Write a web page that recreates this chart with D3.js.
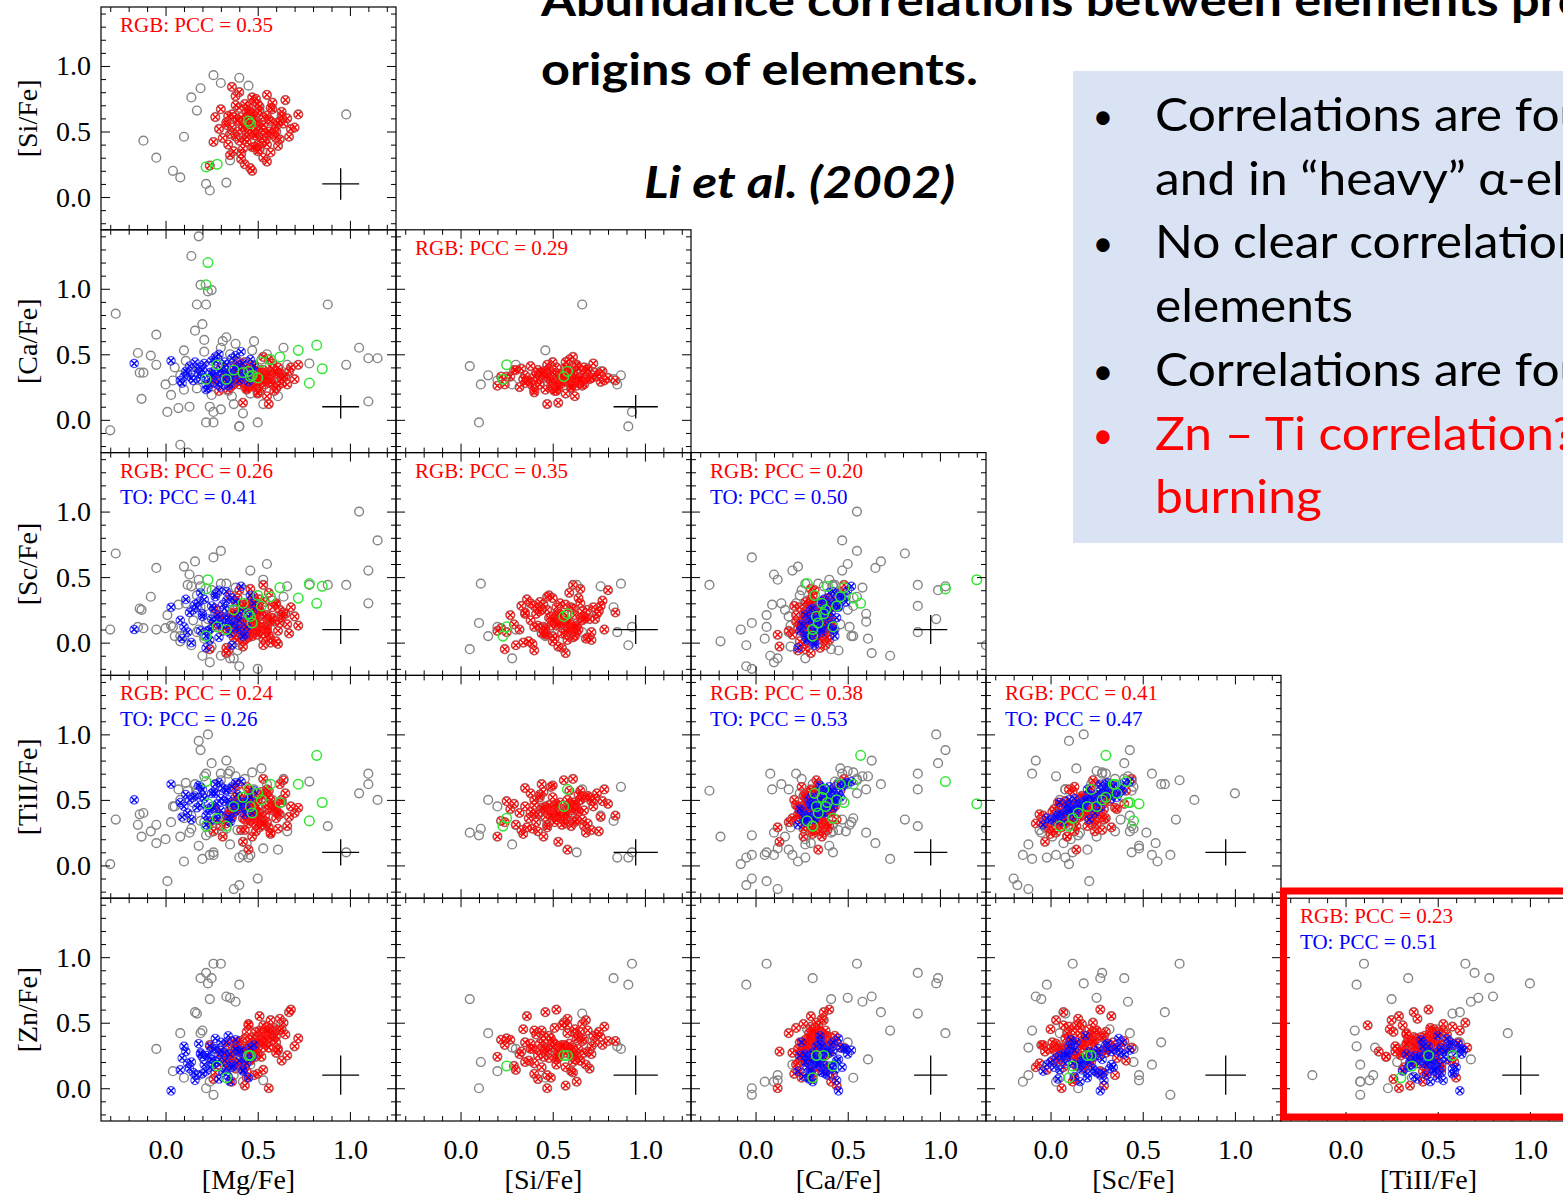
<!DOCTYPE html>
<html lang="en">
<head>
<meta charset="UTF-8">
<title>Abundance correlations</title>
<style>
  html, body { margin: 0; padding: 0; background: #fff; overflow: hidden; }
  svg { display: block; }
</style>
</head>
<body>
<svg width="1563" height="1197"></svg>
<script src="https://cdn.jsdelivr.net/npm/d3@7"></script>
<script>
// every star row is [Mg, Si, Ca, Sc, TiII, Zn]  (null = not measured)
var elements = ['[Mg/Fe]', '[Si/Fe]', '[Ca/Fe]', '[Sc/Fe]', '[TiII/Fe]', '[Zn/Fe]'];
var tickValues = [0, 0.5, 1.0];
var tickLabels = ['0.0', '0.5', '1.0'];
var errBars = [0.10, 0.12, 0.09, 0.11, 0.10, 0.15];

// PCC labels, one list per row of the corner plot
var pccRGB = [['0.35'], [null, '0.29'], ['0.26', '0.35', '0.20'], ['0.24', null, '0.38', '0.41'], [null, null, null, null, '0.23']];
var pccTO = [[null], [null, null], ['0.41', null, '0.50'], ['0.26', null, '0.53', '0.47'], [null, null, null, null, '0.51']];

// RGB stars (red)
var rgbStars = [
  [0.45,0.62,0.28,0.05,0.46,0.22],[0.52,0.41,0.36,0.22,0.33,0.41],[0.38,0.70,0.31,0.18,0.52,0.15],
  [0.60,0.50,0.24,0.01,0.41,0.35],[0.41,0.33,0.39,0.28,0.27,0.28],[0.55,0.78,0.30,0.10,0.58,0.47],
  [0.33,0.55,0.35,-0.04,0.38,0.33],[0.48,0.47,0.42,0.35,0.44,0.10],[0.66,0.60,0.27,0.14,0.30,0.25],
  [0.43,0.25,0.33,0.08,0.49,0.38],[0.29,0.52,0.22,0.21,0.35,0.18],[0.57,0.68,0.37,0.03,0.25,0.52],
  [0.47,0.38,0.29,0.30,0.55,0.30],[0.36,0.63,0.41,0.12,0.42,0.05],[0.62,0.44,0.34,0.25,0.62,0.44],
  [0.50,0.57,0.20,0.06,0.36,0.27],[0.40,0.80,0.32,0.40,0.47,0.36],[0.53,0.30,0.38,-0.02,0.31,0.14],
  [0.45,0.66,0.26,0.17,0.53,0.49],[0.70,0.53,0.31,0.20,0.40,0.32],[0.31,0.45,0.36,0.09,0.22,0.24],
  [0.58,0.72,0.43,0.27,0.45,0.40],[0.44,0.49,0.25,0.13,0.60,0.08],[0.51,0.36,0.30,0.33,0.29,0.55],
  [0.39,0.58,0.40,0.02,0.43,0.29],[0.63,0.65,0.28,0.19,0.50,0.21],[0.46,0.22,0.33,0.11,0.34,0.37],
  [0.56,0.59,0.46,0.38,0.57,0.31],[0.34,0.40,0.23,-0.06,0.39,0.19],[0.49,0.75,0.35,0.24,0.26,0.43],
  [0.42,0.54,0.29,0.15,0.48,0.26],[0.67,0.46,0.37,0.07,0.37,0.58],[0.27,0.61,0.32,0.26,0.44,0.12],
  [0.54,0.43,0.27,0.31,0.54,0.34],[0.45,0.69,0.39,0.04,0.32,0.28],[0.59,0.51,0.22,0.16,0.46,0.46],
  [0.37,0.35,0.34,0.22,0.59,0.20],[0.50,0.64,0.30,0.10,0.41,0.39],[0.43,0.57,0.44,0.29,0.35,0.02],
  [0.61,0.39,0.26,-0.01,0.28,0.30],[0.48,0.73,0.36,0.18,0.51,0.35],[0.35,0.48,0.31,0.36,0.43,0.23],
  [0.55,0.62,0.18,0.09,0.33,0.42],[0.41,0.29,0.38,0.14,0.47,0.17],[0.64,0.56,0.33,0.23,0.65,0.50],
  [0.47,0.50,0.28,0.05,0.38,0.31],[0.30,0.67,0.40,0.20,0.30,0.27],[0.52,0.45,0.35,0.12,0.56,0.36],
  [0.44,0.60,0.24,0.27,0.42,0.13],[0.57,0.34,0.31,0.00,0.24,0.45],[0.38,0.77,0.37,0.32,0.49,0.33],
  [0.49,0.52,0.29,0.16,0.37,0.24],[0.72,0.63,0.42,0.13,0.44,0.38],[0.40,0.43,0.27,0.24,0.52,0.29],
  [0.53,0.55,0.34,0.07,0.31,0.48],[0.46,0.65,0.30,0.41,0.57,0.21],[0.35,0.32,0.25,0.10,0.40,0.26],
  [0.58,0.48,0.39,0.19,0.46,0.40],[0.43,0.71,0.32,0.02,0.27,0.32],[0.50,0.40,0.21,0.28,0.50,0.11],
  [0.62,0.58,0.36,0.15,0.39,0.53],[0.39,0.50,0.44,0.34,0.61,0.35],[0.47,0.63,0.26,0.08,0.35,0.25],
  [0.55,0.27,0.33,0.21,0.43,0.37],[0.33,0.57,0.30,-0.08,0.32,0.16],[0.51,0.69,0.38,0.25,0.53,0.44],
  [0.44,0.46,0.23,0.11,0.45,0.30],[0.60,0.54,0.35,0.30,0.36,0.27],[0.37,0.61,0.28,0.04,0.48,0.20],
  [0.48,0.38,0.41,0.17,0.41,0.34],[0.26,0.42,0.31,0.13,0.26,0.07],[0.65,0.74,0.33,0.22,0.55,0.41],
  [0.42,0.53,0.13,-0.03,0.18,0.28],[0.53,0.61,0.48,0.44,0.66,0.31],[0.47,0.20,0.26,0.09,0.22,0.24],
  [0.36,0.84,0.30,0.23,0.38,0.36],[0.56,0.47,0.12,0.06,0.29,0.00],[0.24,0.24,0.27,-0.05,0.33,0.33],
  [0.68,0.52,0.40,0.27,0.45,0.60],[0.45,0.58,0.34,0.14,0.12,0.48],
  [0.49,0.56,0.32,0.18,0.41,0.33],[0.41,0.61,0.36,0.09,0.44,0.27],[0.54,0.49,0.30,0.20,0.38,0.38],
  [0.46,0.52,0.27,0.13,0.47,0.22],[0.51,0.66,0.34,0.24,0.35,0.36],[0.38,0.46,0.33,0.06,0.42,0.31],
  [0.57,0.58,0.29,0.16,0.50,0.42],[0.44,0.42,0.38,0.26,0.39,0.25],[0.48,0.60,0.25,0.11,0.45,0.29],
  [0.53,0.51,0.35,0.03,0.33,0.34],[0.40,0.68,0.31,0.19,0.52,0.18],[0.60,0.45,0.37,0.29,0.43,0.40],
  [0.45,0.55,0.28,0.15,0.37,0.32],[0.50,0.71,0.32,0.08,0.49,0.26],[0.36,0.53,0.26,0.22,0.40,0.23],
  [0.55,0.40,0.33,0.12,0.46,0.44],[0.47,0.64,0.39,0.34,0.54,0.30],[0.42,0.37,0.30,0.01,0.36,0.21],
  [0.58,0.67,0.27,0.18,0.42,0.37],[0.49,0.47,0.34,0.25,0.31,0.28],[0.39,0.59,0.37,0.10,0.47,0.34],
  [0.52,0.53,0.24,0.14,0.39,0.24],[0.63,0.62,0.31,0.21,0.48,0.45],[0.43,0.44,0.35,0.07,0.44,0.16],
  [0.47,0.76,0.29,0.28,0.37,0.39],[0.56,0.50,0.36,0.17,0.52,0.31],[0.34,0.62,0.33,0.12,0.34,0.26],
  [0.50,0.35,0.28,0.23,0.45,0.35],[0.61,0.57,0.40,0.09,0.40,0.29],[0.44,0.65,0.31,0.30,0.50,0.43]
];

// turn-off stars (blue), no Si
var toStars = [
  [0.28,null,0.35,0.18,0.47,0.20],[0.15,null,0.30,0.25,0.52,0.12],[0.40,null,0.42,0.10,0.44,0.28],
  [0.22,null,0.27,0.05,0.38,0.25],[0.33,null,0.38,0.32,0.58,0.15],[0.10,null,0.33,0.12,0.45,0.32],
  [0.45,null,0.29,0.20,0.50,0.08],[0.25,null,0.45,0.28,0.55,0.22],[0.36,null,0.32,-0.02,0.36,0.18],
  [0.19,null,0.40,0.38,0.60,0.27],[0.30,null,0.25,0.14,0.42,0.35],[0.42,null,0.37,0.24,0.48,0.13],
  [0.12,null,0.36,0.08,0.40,0.19],[0.27,null,0.48,0.35,0.62,0.30],[0.35,null,0.31,0.16,0.46,0.05],
  [0.20,null,0.34,0.22,0.53,0.24],[0.48,null,0.41,0.30,0.57,0.33],[0.24,null,0.28,0.02,0.34,0.16],
  [0.32,null,0.44,0.19,0.49,0.21],[0.17,null,0.39,0.27,0.44,0.10],[0.38,null,0.35,0.11,0.41,0.37],
  [0.29,null,0.50,0.40,0.63,0.26],[0.08,null,0.30,0.17,0.48,0.14],[0.43,null,0.33,0.06,0.39,0.23],
  [0.26,null,0.37,0.26,0.56,0.30],[0.34,null,0.26,0.13,0.37,0.09],[0.21,null,0.43,0.33,0.51,0.18],
  [0.39,null,0.39,0.21,0.54,0.28],[0.14,null,0.32,0.00,0.35,0.20],[0.31,null,0.36,0.29,0.59,0.12],
  [0.46,null,0.46,0.36,0.52,0.31],[0.23,null,0.24,0.09,0.43,0.25],[0.37,null,0.40,0.15,0.47,0.17],
  [0.18,null,0.35,0.31,0.61,0.34],[0.29,null,0.29,0.04,0.39,0.07],[0.41,null,0.52,0.43,0.64,0.29],
  [0.25,null,0.33,0.18,0.45,0.22],[0.13,null,0.41,0.23,0.50,0.15],[0.35,null,0.27,0.07,0.33,0.26],
  [0.27,null,0.45,0.37,0.55,0.38],[0.44,null,0.34,0.12,0.43,0.19],[0.20,null,0.38,0.20,0.58,0.11],
  [0.32,null,0.31,0.26,0.49,0.27],[0.09,null,0.28,0.03,0.37,0.23],[0.36,null,0.47,0.34,0.60,0.16],
  [0.24,null,0.36,0.10,0.42,0.32],[0.40,null,0.30,0.17,0.46,0.21],[0.16,null,0.44,0.29,0.53,0.06],
  [0.30,null,0.39,0.13,0.51,0.29],[0.47,null,0.37,0.24,0.40,0.24],[0.22,null,0.23,-0.04,0.31,0.13],
  [0.33,null,0.42,0.39,0.57,0.35],[0.26,null,0.34,0.16,0.44,0.18],[0.03,null,0.45,0.27,0.62,-0.02],
  [0.38,null,0.49,0.31,0.63,0.30],[0.19,null,0.31,0.09,0.46,0.26],[0.28,null,0.27,0.21,0.35,0.20],
  [0.42,null,0.43,0.05,0.48,0.14],[0.11,null,0.37,0.33,0.54,0.28],[0.34,null,0.35,0.19,0.50,0.40],
  [-0.17,null,0.43,0.10,0.50,null]
];

// remaining stars (grey open circles)
var otherStars = [
  [-0.30,null,-0.08,0.10,0.01,null],[-0.27,null,0.81,0.68,0.35,null],[-0.15,null,0.51,0.12,0.31,null],
  [-0.14,null,0.36,0.26,0.39,null],[-0.13,null,0.16,0.25,0.22,null],[-0.05,null,0.65,0.57,0.17,null],
  [-0.08,null,0.49,0.35,0.26,null],[0.00,null,0.27,0.11,0.20,null],[0.01,null,0.06,0.21,-0.12,null],
  [0.05,null,0.40,0.05,0.45,null],[0.07,null,0.09,0.29,0.58,null],[0.08,null,-0.19,0.01,0.22,null],
  [0.10,null,0.23,0.58,0.03,null],[0.12,null,-0.25,0.44,0.57,null],[0.13,null,0.10,0.52,0.25,null],
  [0.16,null,0.68,0.62,0.62,0.58],[0.18,null,1.40,0.10,0.95,null],[0.19,null,1.03,0.43,0.88,0.42],
  [0.14,null,1.25,-0.02,0.28,null],[0.21,null,0.61,0.03,0.68,0.22],[0.23,null,0.98,0.18,1.00,0.80],
  [0.25,null,0.99,0.40,0.78,0.84],[0.22,null,0.88,0.28,0.70,0.88],[0.20,null,0.73,-0.10,0.05,0.44],
  [0.24,null,0.10,-0.15,0.08,0.05],[0.26,null,-0.02,0.65,0.08,-0.05],[0.18,null,0.40,0.48,0.15,0.10],
  [0.30,null,0.55,0.70,0.65,0.95],[0.33,null,0.63,-0.08,0.80,0.70],[0.35,null,0.50,0.25,0.72,0.69],
  [0.38,null,0.58,0.42,0.68,0.66],[0.37,null,0.12,-0.12,-0.18,0.10],[0.42,null,0.05,0.03,0.08,0.05],
  [0.46,null,0.20,0.55,0.08,0.18],[0.53,null,0.12,0.48,0.13,0.06],[0.55,null,0.50,0.60,0.62,0.35],
  [0.58,null,0.28,0.32,0.50,0.45],[0.61,null,0.18,0.20,0.12,null],[0.64,null,0.55,0.35,0.66,null],
  [0.66,null,0.42,0.43,0.26,null],[0.50,null,-0.02,-0.20,-0.10,null],[0.40,null,-0.05,-0.18,-0.15,null],
  [0.30,null,0.08,-0.10,0.70,null],[0.15,null,0.34,0.17,0.48,null],[0.11,null,0.45,0.30,0.63,null],
  [0.03,null,0.19,0.13,0.33,null],[0.28,null,0.47,0.38,0.35,null],[0.44,null,0.30,0.07,0.17,null],
  [0.48,null,0.60,0.22,0.58,null],[0.52,null,0.46,0.14,0.74,null],[0.88,null,0.88,0.44,0.30,null],
  [1.05,null,0.55,1.00,0.55,null],[1.10,null,0.47,0.55,0.70,null],[1.15,null,0.47,0.78,0.50,null],
  [0.78,null,0.43,0.44,0.64,null],[1.10,null,0.14,0.30,0.62,null],[0.98,0.63,0.42,0.44,0.10,null],
  [-0.12,0.43,0.36,0.11,0.40,null],[-0.05,0.30,0.42,0.10,0.31,0.30],[0.04,0.20,0.30,0.12,0.45,0.13],
  [0.10,0.46,0.53,0.05,0.36,0.08],[0.17,0.66,0.88,0.08,0.58,0.57],[0.14,0.76,0.37,0.43,0.38,null],
  [0.19,0.83,0.31,0.27,0.34,0.84],[0.26,0.93,0.06,0.12,0.10,0.95],[0.40,0.91,-0.05,-0.02,0.06,0.79],
  [0.22,0.10,-0.02,0.15,0.23,0.00],[0.24,0.05,0.41,-0.05,0.25,0.68],[0.33,0.11,0.27,0.45,0.28,0.20],
  [0.36,0.48,0.34,0.10,0.42,0.27],[0.35,0.28,0.27,-0.12,0.16,0.31],[0.08,0.15,0.34,0.05,0.50,0.42],
  [0.45,0.85,0.27,0.08,0.06,0.32],[0.30,0.87,0.34,0.45,0.60,0.30],
  [0.27,null,0.31,0.22,0.62,null],[0.34,null,0.22,0.30,0.70,null],[0.21,null,0.52,0.05,0.33,null],
  [0.39,null,0.45,-0.06,0.27,null],[0.17,null,0.24,0.36,0.55,null],[0.31,null,0.60,0.16,0.25,null],
  [0.43,null,0.25,0.40,0.66,null],[0.25,null,0.19,-0.03,0.29,null],[0.47,null,0.53,0.28,0.71,null],
  [0.36,null,0.18,0.08,0.58,null]
];

// green open circles
var greenStars = [
  [0.23,null,1.20,0.48,0.47,null],[0.22,null,1.03,0.41,0.64,null],[0.33,null,0.31,0.10,0.30,0.08],
  [0.37,null,0.38,0.25,0.45,null],[0.42,null,0.36,0.30,0.52,null],[0.45,0.58,0.37,0.22,0.58,0.25],
  [0.47,null,0.34,0.15,0.40,null],[0.50,null,0.32,0.36,0.55,null],[0.52,null,0.44,0.28,0.50,null],
  [0.57,null,0.46,0.35,0.62,null],[0.62,null,0.48,0.42,0.48,null],[0.72,null,0.53,0.34,0.62,null],
  [0.82,null,0.57,0.30,0.84,null],[0.85,null,0.39,0.43,0.48,null],[0.78,null,0.28,0.45,0.34,null],
  [0.22,0.23,0.31,0.05,0.30,null],[0.28,0.25,0.42,0.12,0.36,0.17],[0.46,0.56,0.33,0.20,0.45,0.25]
];

var svg = d3.select('svg');
var cellW = 295, cellH = 222.8, left0 = 101, top0 = 7;
var xDomain = [-0.35, 1.25], yDomain = [-0.25, 1.45];
var minorX = d3.range(-3, 13).map(function (d) { return d / 10; }).filter(function (v) { return tickValues.indexOf(v) < 0; });
var minorY = d3.range(-2, 15).map(function (d) { return d / 10; }).filter(function (v) { return tickValues.indexOf(v) < 0; });
var serif = '"Liberation Serif", "Times New Roman", serif';

// ---- slide text ----
var sans = 'Lato, "Open Sans", sans-serif';
var title2 = svg.append('text').attr('x', 541).attr('y', 85).attr('font-family', sans)
  .attr('font-weight', 'bold').attr('font-size', 44).text('origins of elements.');
var k = 437 / title2.node().getComputedTextLength();
title2.attr('textLength', 437).attr('lengthAdjust', 'spacingAndGlyphs');
var title1 = svg.append('text').attr('x', 541).attr('y', 16).attr('font-family', sans)
  .attr('font-weight', 'bold').attr('font-size', 44).text('Abundance correlations between elements produced in different');
title1.attr('textLength', title1.node().getComputedTextLength() * k).attr('lengthAdjust', 'spacingAndGlyphs');
svg.append('text').attr('x', 644).attr('y', 198).attr('font-family', sans)
  .attr('font-weight', 'bold').attr('font-style', 'italic').attr('font-size', 44)
  .attr('textLength', 311).attr('lengthAdjust', 'spacingAndGlyphs').text('Li et al. (2002)');

svg.append('rect').attr('x', 1073).attr('y', 71).attr('width', 520).attr('height', 472).attr('fill', '#dae3f3');
var bulletLines = [
  {t: 'Correlations are found in “light” α-elements', dot: true, c: '#000'},
  {t: 'and in “heavy” α-elements (Ca, Sc, Ti)', dot: false, c: '#000'},
  {t: 'No clear correlation between light and heavy α-', dot: true, c: '#000'},
  {t: 'elements', dot: false, c: '#000'},
  {t: 'Correlations are found for Zn and Ti', dot: true, c: '#000'},
  {t: 'Zn – Ti correlation? Common site of', dot: true, c: '#ff0000'},
  {t: 'burning', dot: false, c: '#ff0000'}
];
var probe = svg.append('text').attr('font-family', sans).attr('font-size', 47).text('elements');
var kb = 198 / probe.node().getComputedTextLength();
probe.remove();
bulletLines.forEach(function (d, i) {
  var yb = 131 + i * 63.7;
  if (d.dot) svg.append('text').attr('x', 1103).attr('y', yb - 2).attr('text-anchor', 'middle')
    .attr('font-family', sans).attr('font-size', 36).attr('fill', d.c).text('•');
  var t = svg.append('text').attr('x', 1155).attr('y', yb).attr('font-family', sans)
    .attr('font-size', 47).attr('fill', d.c).text(d.t);
  t.attr('textLength', t.node().getComputedTextLength() * kb).attr('lengthAdjust', 'spacingAndGlyphs');
});

// ---- corner plot ----
for (var r = 0; r < 5; r++) {
  for (var c = 0; c <= r; c++) drawPanel(r, c);
}

function drawPanel(r, c) {
  var xi = c, yi = r + 1;
  var x0 = left0 + c * cellW, y0 = top0 + r * cellH;
  var x = d3.scaleLinear().domain(xDomain).range([x0, x0 + cellW]);
  var y = d3.scaleLinear().domain(yDomain).range([y0 + cellH, y0]);
  var g = svg.append('g');
  var clipId = 'clip' + r + c;
  g.append('clipPath').attr('id', clipId).append('rect')
    .attr('x', x0).attr('y', y0).attr('width', cellW).attr('height', cellH);
  var pts = g.append('g').attr('clip-path', 'url(#' + clipId + ')');
  function has(s) { return s[xi] != null && s[yi] != null; }
  function pos(s) { return 'translate(' + x(s[xi]) + ',' + y(s[yi]) + ')'; }

  // grey rings for the other stars and under the RGB symbols
  pts.selectAll('.grey').data(otherStars.concat(rgbStars).filter(has)).enter().append('circle')
    .attr('cx', function (s) { return x(s[xi]); }).attr('cy', function (s) { return y(s[yi]); })
    .attr('r', 4.4).attr('fill', 'none').attr('stroke', '#858585').attr('stroke-width', 1.4);

  var cross = 'M-3,-3L3,3M-3,3L3,-3';
  var red = pts.selectAll('.rgb').data(rgbStars.filter(has)).enter().append('g').attr('transform', pos);
  red.append('circle').attr('r', 4.1).attr('fill', 'none').attr('stroke', '#ff1a1a').attr('stroke-opacity', 0.7).attr('stroke-width', 1.2);
  red.append('path').attr('d', cross).attr('stroke', '#ff0000').attr('stroke-width', 1.4);

  var blue = pts.selectAll('.to').data(toStars.filter(has)).enter().append('g').attr('transform', pos);
  blue.append('circle').attr('r', 4.2).attr('fill', 'none').attr('stroke', '#2020ff').attr('stroke-opacity', 0.8).attr('stroke-width', 1.2);
  blue.append('path').attr('d', cross).attr('stroke', '#0000ff').attr('stroke-width', 1.4);

  pts.selectAll('.green').data(greenStars.filter(has)).enter().append('circle')
    .attr('cx', function (s) { return x(s[xi]); }).attr('cy', function (s) { return y(s[yi]); })
    .attr('r', 4.8).attr('fill', 'none').attr('stroke', '#33e633').attr('stroke-width', 1.5);

  // typical error bars
  var ex = 0.95, ey = 0.1;
  g.append('path')
    .attr('d', 'M' + x(ex - errBars[xi]) + ',' + y(ey) + 'H' + x(ex + errBars[xi]) +
      'M' + x(ex) + ',' + y(ey - errBars[yi]) + 'V' + y(ey + errBars[yi]))
    .attr('stroke', '#000').attr('stroke-width', 1.3).attr('fill', 'none');

  // frame and inward ticks on all four sides
  g.append('rect').attr('x', x0).attr('y', y0).attr('width', cellW).attr('height', cellH)
    .attr('fill', 'none').attr('stroke', '#000').attr('stroke-width', 1.2);
  function ticks(axis, vals, size, tx, ty) {
    g.append('g').attr('transform', 'translate(' + tx + ',' + ty + ')')
      .call(axis.tickValues(vals).tickSize(size).tickFormat(''))
      .call(function (a) { a.select('.domain').remove(); a.selectAll('line').attr('stroke-width', 1); });
  }
  ticks(d3.axisBottom(x), tickValues, -9, 0, y0 + cellH);
  ticks(d3.axisBottom(x), minorX, -5, 0, y0 + cellH);
  ticks(d3.axisTop(x), tickValues, -9, 0, y0);
  ticks(d3.axisTop(x), minorX, -5, 0, y0);
  ticks(d3.axisLeft(y), tickValues, -9, x0, 0);
  ticks(d3.axisLeft(y), minorY, -5, x0, 0);
  ticks(d3.axisRight(y), tickValues, -9, x0 + cellW, 0);
  ticks(d3.axisRight(y), minorY, -5, x0 + cellW, 0);

  // PCC labels
  if (pccRGB[r][c]) g.append('text').attr('x', x0 + 19).attr('y', y0 + 25).attr('font-family', serif)
    .attr('font-size', 21).attr('fill', '#ff0000').text('RGB: PCC = ' + pccRGB[r][c]);
  if (pccTO[r][c]) g.append('text').attr('x', x0 + 19).attr('y', y0 + 51).attr('font-family', serif)
    .attr('font-size', 21).attr('fill', '#0000ff').text('TO: PCC = ' + pccTO[r][c]);

  // outer tick labels and axis titles
  if (c === 0) {
    g.append('g').attr('transform', 'translate(' + x0 + ',0)')
      .call(d3.axisLeft(y).tickValues(tickValues).tickSize(0).tickPadding(10)
        .tickFormat(function (d, i) { return tickLabels[i]; }))
      .call(function (a) {
        a.select('.domain').remove();
        a.selectAll('text').attr('font-family', serif).attr('font-size', 28).attr('fill', '#000');
      });
    g.append('text').attr('transform', 'translate(37,' + (y0 + cellH / 2) + ') rotate(-90)')
      .attr('text-anchor', 'middle').attr('font-family', serif).attr('font-size', 28).text(elements[yi]);
  }
  if (r === 4) {
    g.append('g').attr('transform', 'translate(0,' + (y0 + cellH) + ')')
      .call(d3.axisBottom(x).tickValues(tickValues).tickSize(0).tickPadding(18)
        .tickFormat(function (d, i) { return tickLabels[i]; }))
      .call(function (a) {
        a.select('.domain').remove();
        a.selectAll('text').attr('font-family', serif).attr('font-size', 28).attr('fill', '#000');
      });
    g.append('text').attr('x', x0 + cellW / 2).attr('y', 1189).attr('text-anchor', 'middle')
      .attr('font-family', serif).attr('font-size', 28).text(elements[xi]);
  }
}

// red highlight around the Zn-Ti panel
svg.append('rect').attr('x', 1283.5).attr('y', 891).attr('width', 330).attr('height', 226)
  .attr('fill', 'none').attr('stroke', '#ff0000').attr('stroke-width', 7);
</script>
</body>
</html>
